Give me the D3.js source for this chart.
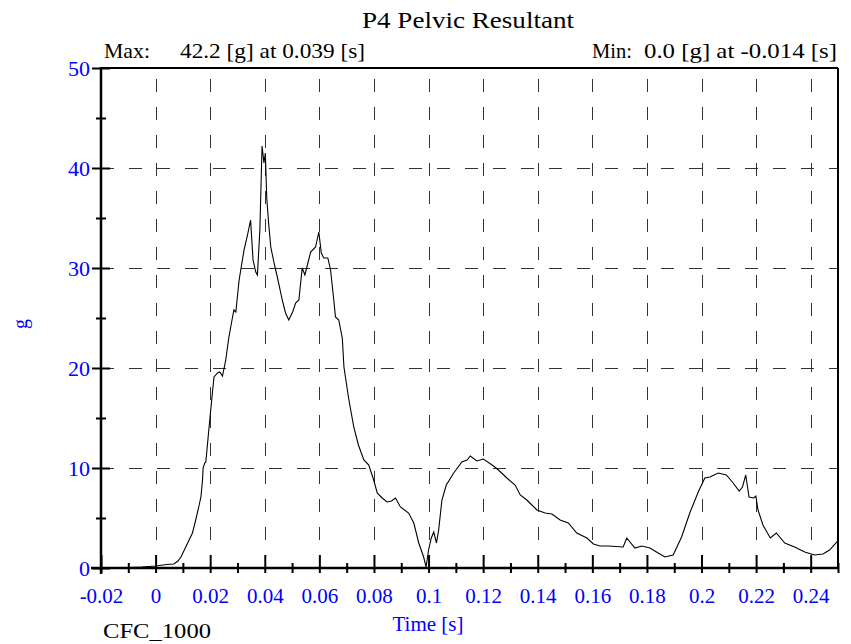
<!DOCTYPE html>
<html><head><meta charset="utf-8">
<script src="https://cdn.jsdelivr.net/npm/d3@7"></script>
<style>
html,body{margin:0;padding:0;background:#fff;}
svg{display:block;font-family:"Liberation Serif","Times New Roman",serif;}
</style></head>
<body>
<svg id="c" width="851" height="644"></svg>
<script>
// ---- data ----
const timeS = [-0.02,-0.01,-0.005,0,0.0041,0.0067,0.0082,0.0093,0.0114,0.0135,0.0147,0.0158,0.0166,0.0172,0.0174,0.018,0.0184,0.0196,0.0208,0.0214,0.0227,0.0235,0.0245,0.0257,0.0268,0.0282,0.0287,0.0294,0.0306,0.0324,0.0336,0.0348,0.0357,0.0367,0.0373,0.0382,0.039,0.0397,0.0402,0.0407,0.0414,0.0422,0.0434,0.0446,0.0464,0.0476,0.0488,0.0502,0.0513,0.0525,0.0537,0.0547,0.0558,0.0568,0.0586,0.0598,0.0607,0.0616,0.0631,0.0641,0.0652,0.0659,0.0671,0.0684,0.069,0.0707,0.0726,0.0743,0.0763,0.0781,0.0799,0.0812,0.083,0.0848,0.0864,0.0879,0.0897,0.0927,0.0946,0.0964,0.0982,0.0991,0.1,0.101,0.1019,0.1029,0.1037,0.1049,0.1065,0.1092,0.1122,0.1141,0.1153,0.1177,0.1201,0.1238,0.1256,0.1287,0.1317,0.1336,0.136,0.1397,0.1427,0.1452,0.1482,0.1512,0.1543,0.158,0.1604,0.1628,0.1659,0.1713,0.1726,0.1756,0.1781,0.1811,0.1841,0.1866,0.1896,0.1927,0.1957,0.1988,0.2012,0.2031,0.2061,0.2091,0.2116,0.2138,0.215,0.2162,0.2174,0.2191,0.2199,0.2207,0.2225,0.2252,0.2274,0.2305,0.2341,0.2378,0.2414,0.2445,0.2469,0.2496,0.25];
const accelG = [0,0.05,0.1,0.2,0.35,0.4,0.7,1.1,2.3,3.5,4.8,6.1,7.1,8.8,10.0,10.5,10.6,14.1,17.5,19.1,19.5,19.6,19.2,20.8,23.0,25.1,25.8,25.6,28.8,31.8,33.2,34.8,30.8,29.6,29.3,33.8,42.2,40.5,41.5,37.1,34.5,32.1,30.5,29.1,26.8,25.5,24.8,25.6,26.5,26.8,30.0,29.3,30.5,31.6,32.1,33.6,31.5,31.0,31.0,29.8,27.0,25.1,24.8,23.0,20.1,17.0,14.1,12.3,10.8,10.3,8.8,7.5,7.0,6.6,6.7,7.0,6.1,5.5,4.5,2.5,1.1,0.1,1.8,3.0,3.6,2.5,3.8,6.8,8.3,9.5,10.6,10.8,11.2,10.7,10.9,10.2,9.8,9.0,8.3,7.3,6.8,5.8,5.5,5.4,4.8,4.5,3.5,3.0,2.4,2.2,2.2,2.1,3.0,2.0,2.2,2.0,1.5,1.1,1.3,3.1,5.5,7.6,9.0,9.1,9.5,9.3,8.5,7.7,8.1,9.3,7.1,7.0,7.2,5.8,4.3,3.0,3.5,2.5,2.1,1.6,1.3,1.4,1.8,2.6,2.7];
const xTicks = [-0.02,0,0.02,0.04,0.06,0.08,0.1,0.12,0.14,0.16,0.18,0.2,0.22,0.24];
const xTickLabels = ["-0.02","0","0.02","0.04","0.06","0.08","0.1","0.12","0.14","0.16","0.18","0.2","0.22","0.24"];
const xMinor = [-0.01,0.01,0.03,0.05,0.07,0.09,0.11,0.13,0.15,0.17,0.19,0.21,0.23,0.25];
const yTicks = [0,10,20,30,40,50];
const yTickLabels = ["0","10","20","30","40","50"];
const yMinor = [5,15,25,35,45];
const titleText = "P4 Pelvic Resultant";
const maxLabel = "Max:", maxText = "42.2 [g] at 0.039 [s]";
const minLabel = "Min:", minText = "0.0 [g] at -0.014 [s]";
const xTitle = "Time [s]", yTitle = "g", filterText = "CFC_1000";

// ---- drawing ----
const svg = d3.select("#c");
const L = 101, R = 838, T = 68, B = 568;
const x = d3.scaleLinear().domain([-0.02, 0.25]).range([L, R]);
const y = d3.scaleLinear().domain([0, 50]).range([B, T]);
const blue = "#0000ff";

// grid
const g = svg.append("g");
g.selectAll("line.vg").data(xTicks.filter(v => v > -0.02)).join("line")
  .attr("x1", d => Math.round(x(d)) + 0.5).attr("x2", d => Math.round(x(d)) + 0.5)
  .attr("y1", B).attr("y2", T)
  .attr("stroke", "#333").attr("stroke-width", 1).attr("stroke-dasharray", "13,15");
g.selectAll("line.hg").data(yTicks.filter(v => v > 0 && v < 50)).join("line")
  .attr("y1", d => Math.round(y(d)) + 0.5).attr("y2", d => Math.round(y(d)) + 0.5)
  .attr("x1", L).attr("x2", R)
  .attr("stroke", "#333").attr("stroke-width", 1).attr("stroke-dasharray", "13,15");

// data line
const line = d3.line().x((d, i) => x(timeS[i])).y(d => y(d));
svg.append("path").datum(accelG).attr("d", line)
  .attr("fill", "none").attr("stroke", "#000").attr("stroke-width", 1.1);

// frame (top + right)
svg.append("line").attr("x1", L).attr("x2", R).attr("y1", T).attr("y2", T).attr("stroke", "#000").attr("stroke-width", 2);
svg.append("line").attr("x1", R).attr("x2", R).attr("y1", T).attr("y2", B).attr("stroke", "#000").attr("stroke-width", 2);

// x axis
function styleAxis(sel) { sel.select(".domain").remove(); sel.selectAll(".tick line").attr("stroke", "#000").attr("stroke-width", 2); }
const xb = svg.append("g").attr("transform", `translate(0,${B})`)
  .call(d3.axisBottom(x).tickValues(xTicks).tickSize(5).tickPadding(15)
    .tickFormat((d, i) => xTickLabels[i]));
styleAxis(xb);
xb.selectAll("text").attr("fill", blue).attr("font-size", 21).attr("font-family", "Liberation Serif");
const xt = svg.append("g").attr("transform", `translate(0,${B})`)
  .call(d3.axisTop(x).tickValues(xTicks).tickSize(13).tickFormat(""));
styleAxis(xt);
const xm = svg.append("g").attr("transform", `translate(0,${B})`)
  .call(d3.axisBottom(x).tickValues(xMinor).tickSize(5).tickFormat(""));
styleAxis(xm);
const xm2 = svg.append("g").attr("transform", `translate(0,${B})`)
  .call(d3.axisTop(x).tickValues(xMinor).tickSize(5).tickFormat(""));
styleAxis(xm2);
svg.append("line").attr("x1", L - 10).attr("x2", R + 1).attr("y1", B).attr("y2", B).attr("stroke", "#000").attr("stroke-width", 2.5);

// y axis
const yl = svg.append("g").attr("transform", `translate(${L},0)`)
  .call(d3.axisLeft(y).tickValues(yTicks).tickSize(9).tickPadding(2)
    .tickFormat((d, i) => yTickLabels[i]));
styleAxis(yl);
yl.selectAll("text").attr("fill", blue).attr("font-size", 22).attr("font-family", "Liberation Serif");
const yr = svg.append("g").attr("transform", `translate(${L},0)`)
  .call(d3.axisRight(y).tickValues(yTicks).tickSize(9).tickFormat(""));
styleAxis(yr);
const ym = svg.append("g").attr("transform", `translate(${L},0)`)
  .call(d3.axisLeft(y).tickValues(yMinor).tickSize(5).tickFormat(""));
styleAxis(ym);
const ym2 = svg.append("g").attr("transform", `translate(${L},0)`)
  .call(d3.axisRight(y).tickValues(yMinor).tickSize(5).tickFormat(""));
styleAxis(ym2);
svg.append("line").attr("x1", L).attr("x2", L).attr("y1", T - 1).attr("y2", B + 6).attr("stroke", "#000").attr("stroke-width", 2.5);

// texts
const txt = (s, px, py, opt = {}) => {
  const t = svg.append("text").text(s).attr("x", px).attr("y", py)
    .attr("font-size", opt.size || 20).attr("fill", opt.fill || "#000")
    .attr("text-anchor", opt.anchor || "start").attr("font-family", "Liberation Serif");
  if (opt.len) t.attr("textLength", opt.len).attr("lengthAdjust", "spacingAndGlyphs");
  return t;
};
txt(titleText, 362, 28, { size: 23, len: 212 });
txt(maxLabel, 104, 58, { size: 22, len: 46 });
txt(maxText, 180, 58, { size: 22, len: 185 });
txt(minLabel, 592, 58, { size: 22, len: 40 });
txt(minText, 644, 58, { size: 22, len: 193 });
txt(xTitle, 428, 631, { anchor: "middle", fill: blue, size: 21 });
txt(filterText, 103, 638, { size: 22, len: 108 });
svg.append("text").text(yTitle).attr("transform", "translate(27,324) rotate(-90)")
  .attr("text-anchor", "middle").attr("fill", blue).attr("font-size", 20).attr("font-family", "Liberation Serif");
</script>
</body></html>
